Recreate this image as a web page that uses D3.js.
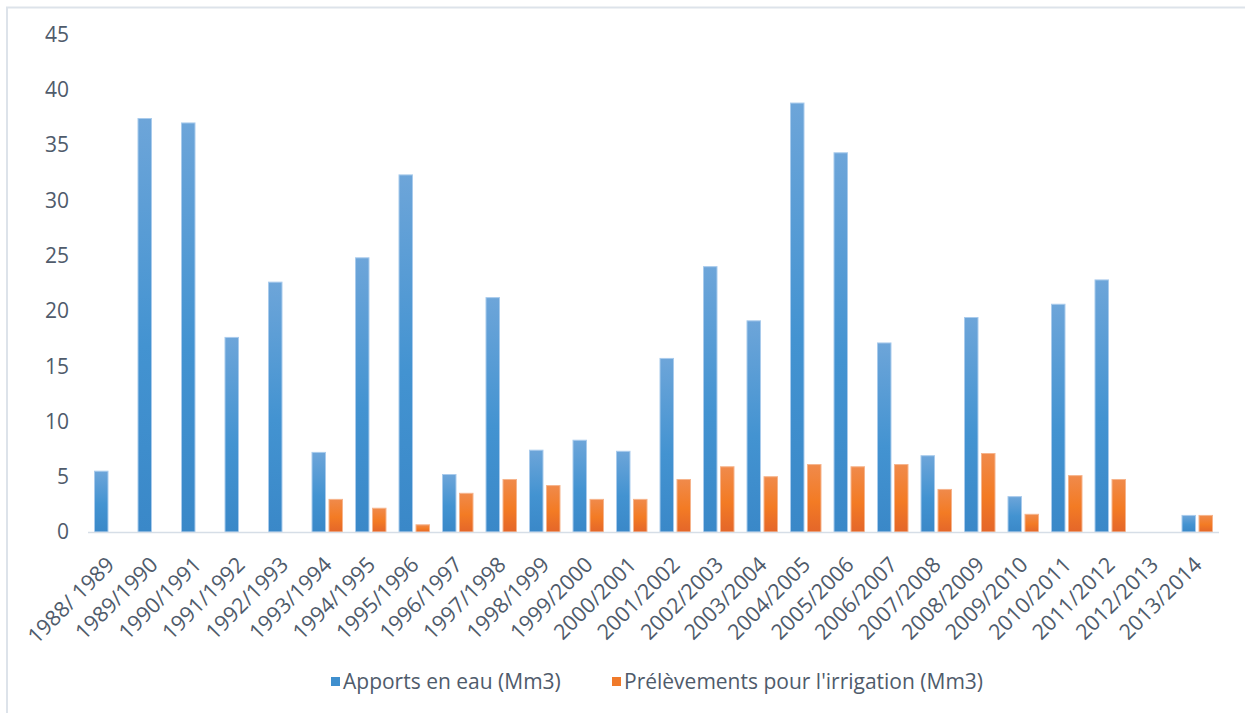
<!DOCTYPE html>
<html><head><meta charset="utf-8">
<script src="https://cdn.jsdelivr.net/npm/d3@7"></script>
<style>body{margin:0;background:#fff;}svg{display:block;font-family:"Open Sans",sans-serif;}</style>
</head><body><svg id="c" width="1245" height="713"></svg>
<script>
const categories = ["1988/ 1989","1989/1990","1990/1991","1991/1992","1992/1993","1993/1994","1994/1995","1995/1996","1996/1997","1997/1998","1998/1999","1999/2000","2000/2001","2001/2002","2002/2003","2003/2004","2004/2005","2005/2006","2006/2007","2007/2008","2008/2009","2009/2010","2010/2011","2011/2012","2012/2013","2013/2014"];
const apports = [5.5,37.4,37.0,17.6,22.6,7.2,24.8,32.3,5.2,21.2,7.4,8.3,7.3,15.7,24.0,19.1,38.8,34.3,17.1,6.9,19.4,3.2,20.6,22.8,0,1.5];
const prelevements = [0,0,0,0,0,2.95,2.15,0.65,3.5,4.75,4.2,2.95,2.95,4.75,5.9,5.0,6.1,5.9,6.1,3.85,7.1,1.6,5.1,4.75,0,1.5];
const yTicks = [0,5,10,15,20,25,30,35,40,45];
const seriesNames = ["Apports en eau (Mm3)","Prélèvements pour l'irrigation (Mm3)"];

const svg = d3.select("#c");
const textColor = "#4f5b6b";
svg.append("rect").attr("x",7).attr("y",7.5).attr("width",1400).attr("height",900)
  .attr("fill","none").attr("stroke","#dde3ea").attr("stroke-width",2);

const defs = svg.append("defs");
const gb = defs.append("linearGradient").attr("id","gBlue").attr("x1",0).attr("y1",0).attr("x2",0).attr("y2",1);
gb.append("stop").attr("offset","0%").attr("stop-color","#6da5d9");
gb.append("stop").attr("offset","55%").attr("stop-color","#4393d1");
gb.append("stop").attr("offset","100%").attr("stop-color","#3a88c8");
const go = defs.append("linearGradient").attr("id","gOrange").attr("x1",0).attr("y1",0).attr("x2",0).attr("y2",1);
go.append("stop").attr("offset","0%").attr("stop-color","#f08a4b");
go.append("stop").attr("offset","55%").attr("stop-color","#f37b24");
go.append("stop").attr("offset","100%").attr("stop-color","#e4662a");

const x = d3.scaleBand().domain(categories).range([88,1219]).paddingInner(0).paddingOuter(0);
const x1 = d3.scaleBand().domain([0,1]).range([0,x.bandwidth()]).paddingInner(0.206).paddingOuter(0.382);
const y = d3.scaleLinear().domain([0,45]).range([532,34.5]);

svg.append("g").selectAll("text").data(yTicks).join("text")
  .attr("x",69).attr("y",d=>y(d)).attr("dy","0.35em").attr("text-anchor","end")
  .attr("font-size",21).attr("fill",textColor).text(d=>d);

const series = [apports, prelevements];
const fills = ["url(#gBlue)","url(#gOrange)"];
const strokes = ["#a9cbec","#f6b48c"];
series.forEach((vals,si)=>{
  svg.append("g").selectAll("rect").data(vals.map((v,i)=>({v,c:categories[i]}))).join("rect")
    .filter(d=>d.v>0)
    .attr("x",d=>x(d.c)+x1(si)).attr("width",x1.bandwidth())
    .attr("y",d=>y(d.v)).attr("height",d=>y(0)-y(d.v))
    .attr("fill",fills[si]).attr("stroke",strokes[si]).attr("stroke-width",1);
});

svg.append("line").attr("x1",88).attr("x2",1219).attr("y1",y(0)+0.5).attr("y2",y(0)+0.5)
  .attr("stroke","#d6dee7").attr("stroke-width",1.5);

svg.append("g").selectAll("text").data(categories).join("text")
  .attr("transform",d=>`translate(${x(d)+x.bandwidth()/2+6},566) rotate(-45)`)
  .attr("text-anchor","end").attr("font-size",21.5).attr("fill",textColor).text(d=>d);

const leg = svg.append("g");
const legX = [331,612];
const legColors = ["#3f8fce","#f07a2a"];
seriesNames.forEach((n,i)=>{
  leg.append("rect").attr("x",legX[i]).attr("y",677).attr("width",9).attr("height",9).attr("fill",legColors[i]);
  leg.append("text").attr("x",legX[i]+12).attr("y",682).attr("dy","0.35em").attr("font-size",21)
    .attr("fill",textColor).text(n);
});
</script></body></html>
